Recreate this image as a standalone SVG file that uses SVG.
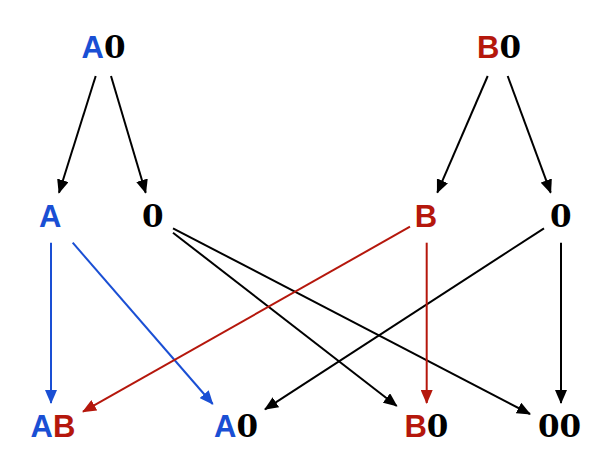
<svg xmlns="http://www.w3.org/2000/svg" width="600" height="463" viewBox="0 0 600 463">
<style>
text{font-weight:bold;font-size:31px}
.l{font-family:"Liberation Sans",Arial,sans-serif}
.d{font-family:"DejaVu Serif","Liberation Serif",serif;fill:#000}
.bl{fill:#1a4fd4}
.rd{fill:#b5170c}
.k{stroke:#000;stroke-width:2;fill:none;marker-end:url(#ak)}
.b{stroke:#1a4fd4;stroke-width:2;fill:none;marker-end:url(#ab)}
.r{stroke:#b5170c;stroke-width:2;fill:none;marker-end:url(#ar)}
</style>
<defs>
<marker id="ak" markerUnits="userSpaceOnUse" markerWidth="14" markerHeight="12" viewBox="0 0 14 12" refX="13" refY="6" orient="auto"><path d="M0,0 L14,6 L0,12 z" fill="#000"/></marker>
<marker id="ab" markerUnits="userSpaceOnUse" markerWidth="14" markerHeight="12" viewBox="0 0 14 12" refX="13" refY="6" orient="auto"><path d="M0,0 L14,6 L0,12 z" fill="#1a4fd4"/></marker>
<marker id="ar" markerUnits="userSpaceOnUse" markerWidth="14" markerHeight="12" viewBox="0 0 14 12" refX="13" refY="6" orient="auto"><path d="M0,0 L14,6 L0,12 z" fill="#b5170c"/></marker>
</defs>
<rect width="600" height="463" fill="#fff"/>
<g id="connectors">
<line class="k" x1="95.7" y1="76" x2="59" y2="192.7"/>
<line class="k" x1="111" y1="76" x2="145.7" y2="192.7"/>
<line class="k" x1="487.7" y1="76" x2="437.3" y2="192.7"/>
<line class="k" x1="507.7" y1="76" x2="550.7" y2="192.7"/>
<line class="k" x1="173" y1="228.3" x2="530" y2="414"/>
<line class="k" x1="173" y1="232.7" x2="396.7" y2="406"/>
<line class="k" x1="544" y1="228.3" x2="265" y2="409.3"/>
<line class="k" x1="561" y1="242.7" x2="561" y2="403"/>
<line class="b" x1="51" y1="242.7" x2="51" y2="403"/>
<line class="b" x1="72.7" y1="242.7" x2="212.7" y2="404"/>
<line class="r" x1="410" y1="226.7" x2="83" y2="411.7"/>
<line class="r" x1="426.7" y1="242.7" x2="426.7" y2="403"/>
</g>
<g id="n-A0-top">
<text x="81.5" y="57.5"><tspan class="l bl">A</tspan><tspan class="d">0</tspan></text>
</g>
<g id="n-B0-top">
<text x="477" y="57.5"><tspan class="l rd">B</tspan><tspan class="d">0</tspan></text>
</g>
<g id="n-A">
<text class="l bl" x="39" y="226.5">A</text>
</g>
<g id="n-0-left">
<text class="d" x="142" y="226.5">0</text>
</g>
<g id="n-B">
<text class="l rd" x="414.7" y="226.5">B</text>
</g>
<g id="n-0-right">
<text class="d" x="550" y="226.5">0</text>
</g>
<g id="n-AB">
<text x="30.5" y="437"><tspan class="l bl">A</tspan><tspan class="l rd">B</tspan></text>
</g>
<g id="n-A0">
<text x="214" y="437"><tspan class="l bl">A</tspan><tspan class="d">0</tspan></text>
</g>
<g id="n-B0">
<text x="404.4" y="437"><tspan class="l rd">B</tspan><tspan class="d">0</tspan></text>
</g>
<g id="n-00">
<text class="d" x="538" y="437">00</text>
</g>
</svg>
